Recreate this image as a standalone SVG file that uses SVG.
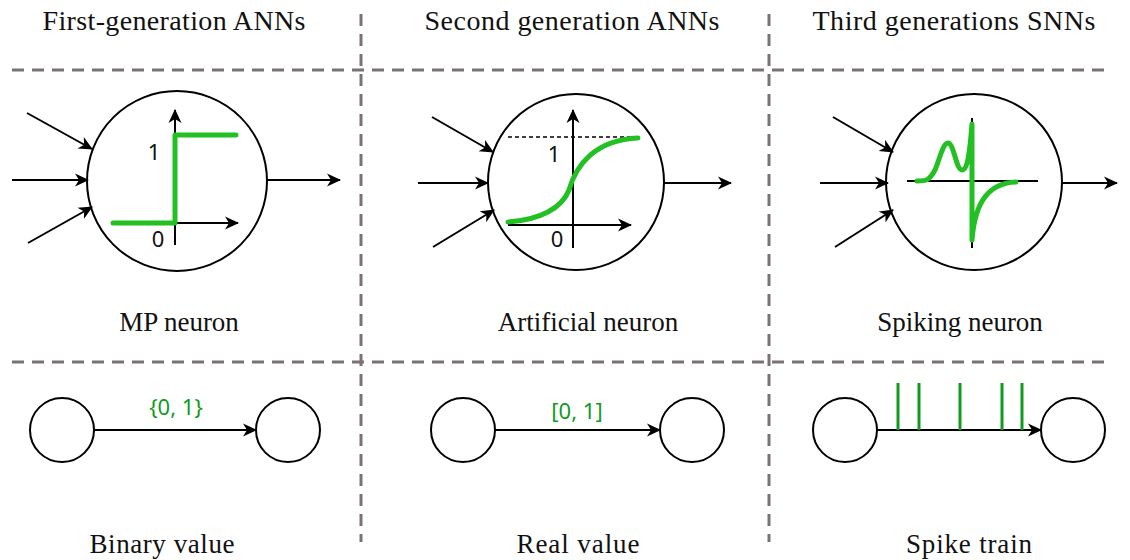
<svg xmlns="http://www.w3.org/2000/svg" width="1130" height="560" viewBox="0 0 1130 560">
<style>
.title{font-family:"Liberation Serif","DejaVu Serif",serif;font-size:27px;fill:#111;text-anchor:middle}
.head{font-size:28px}
.ax{font-family:"Noto Sans","DejaVu Sans",sans-serif;font-size:22px;fill:#111;text-anchor:middle}
.gl{font-family:"Noto Sans","DejaVu Sans",sans-serif;font-size:22px;fill:#129a1e;text-anchor:middle}
.sep{stroke:#7b7373;stroke-width:3;stroke-dasharray:12 8;fill:none}
.ln{stroke:#000;stroke-width:2;fill:none}
.arr{stroke:#000;stroke-width:2;fill:none;marker-end:url(#ah)}
.cir{stroke:#000;stroke-width:2;fill:#fff}
.grn{stroke:#22c022;stroke-width:5;fill:none;stroke-linecap:round;stroke-linejoin:round}
.spk{stroke:#129a1e;stroke-width:3}
</style>
<defs>
<marker id="ah" markerUnits="userSpaceOnUse" markerWidth="16" markerHeight="16" refX="13" refY="7" orient="auto">
<path d="M0,0.5 L14,7 L0,13.5 L4,7 z" fill="#000"/>
</marker>
</defs>
<rect width="1130" height="560" fill="#fff"/>

<g id="separators">
<line class="sep" x1="12" y1="70" x2="1108" y2="70"/>
<line class="sep" x1="12" y1="362" x2="1108" y2="362"/>
<line class="sep" x1="361" y1="14" x2="361" y2="542"/>
<line class="sep" x1="769" y1="14" x2="769" y2="542"/>
</g>

<g id="headers">
<text class="title head" x="174" y="30" textLength="263">First-generation ANNs</text>
<text class="title head" x="572" y="30" textLength="295">Second generation ANNs</text>
<text class="title head" x="954" y="30" textLength="283">Third generations SNNs</text>
<text class="title" x="179" y="331">MP neuron</text>
<text class="title" x="588" y="331">Artificial neuron</text>
<text class="title" x="960" y="331">Spiking neuron</text>
<text class="title" x="162" y="553" textLength="145">Binary value</text>
<text class="title" x="578" y="553" textLength="123">Real value</text>
<text class="title" x="969" y="553" textLength="126">Spike train</text>
</g>

<g id="mp-neuron">
<circle class="cir" cx="177" cy="181" r="90"/>
<line class="arr" x1="175" y1="245" x2="175" y2="110"/>
<line class="arr" x1="175" y1="223" x2="238" y2="223"/>
<path class="grn" d="M113,223 L175,223 L175,135 L236,135"/>
<text class="ax" x="154" y="160">1</text>
<text class="ax" x="158" y="247">0</text>
</g>

<g id="artificial-neuron">
<circle class="cir" cx="576" cy="182" r="88"/>
<line x1="508" y1="137" x2="640" y2="137" stroke="#000" stroke-width="1.5" stroke-dasharray="4 3"/>
<line class="arr" x1="573" y1="248" x2="573" y2="110"/>
<line class="arr" x1="508" y1="225" x2="631" y2="225"/>
<path class="grn" d="M508,222 C540,220 562,208 569,190 C576,165 595,140 638,138"/>
<text class="ax" x="554" y="162">1</text>
<text class="ax" x="557" y="247">0</text>
</g>

<g id="spiking-neuron">
<circle class="cir" cx="974" cy="182" r="88"/>
<line class="ln" x1="907" y1="181" x2="1038" y2="181"/>
<line class="ln" x1="972" y1="118" x2="972" y2="248"/>
<path class="grn" d="M917,181 C926,181 929,181 935,170 C940,158 943,143 948,143 C954,143 956,170 962,170 C968,170 970,150 972,124 L972,240 C975,200 990,183 1016,182" stroke-width="4"/>
</g>

<g id="bottom-nodes">
<circle class="cir" cx="62" cy="430" r="32"/>
<circle class="cir" cx="288" cy="430" r="32"/>
<circle class="cir" cx="463" cy="430" r="32"/>
<circle class="cir" cx="692" cy="430" r="32"/>
<circle class="cir" cx="845" cy="430" r="32"/>
<circle class="cir" cx="1073" cy="430" r="32"/>
</g>

<g id="connectors">
<line class="arr" x1="27" y1="113" x2="92" y2="149"/>
<line class="arr" x1="12" y1="180" x2="88" y2="180"/>
<line class="arr" x1="28" y1="243" x2="92" y2="207"/>
<line class="arr" x1="267" y1="180" x2="340" y2="180"/>
<line class="arr" x1="432" y1="117" x2="493" y2="152"/>
<line class="arr" x1="418" y1="183" x2="488" y2="183"/>
<line class="arr" x1="433" y1="247" x2="494" y2="210"/>
<line class="arr" x1="664" y1="183" x2="731" y2="183"/>
<line class="arr" x1="833" y1="117" x2="893" y2="152"/>
<line class="arr" x1="820" y1="183" x2="888" y2="183"/>
<line class="arr" x1="835" y1="247" x2="893" y2="210"/>
<line class="arr" x1="1062" y1="183" x2="1117" y2="183"/>
<line class="arr" x1="94" y1="430" x2="256" y2="430"/>
<line class="arr" x1="495" y1="430" x2="660" y2="430"/>
<line class="arr" x1="877" y1="430" x2="1041" y2="430"/>
<text class="gl" x="176" y="415">{0, 1}</text>
<text class="gl" x="577" y="419">[0, 1]</text>
<line class="spk" x1="898" y1="383" x2="898" y2="430"/>
<line class="spk" x1="919" y1="383" x2="919" y2="430"/>
<line class="spk" x1="960" y1="383" x2="960" y2="430"/>
<line class="spk" x1="1002" y1="383" x2="1002" y2="430"/>
<line class="spk" x1="1022" y1="383" x2="1022" y2="430"/>
</g>
</svg>
